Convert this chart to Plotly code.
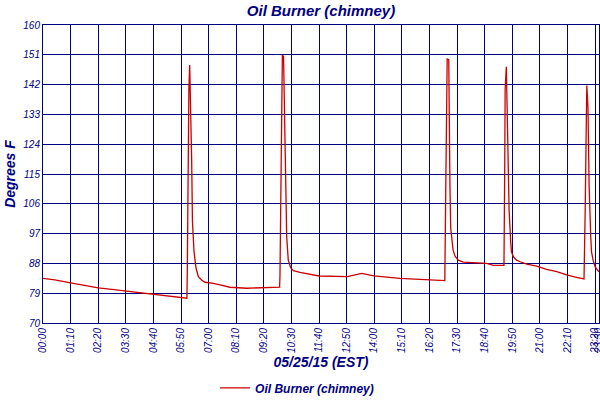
import pandas as pd
import plotly.graph_objects as go

# readings for 05/25/15, time of day (EST) and chimney temperature (deg F)
times = ["00:00", "00:30", "01:10", "01:45", "02:20", "03:00", "03:30", "04:05", "04:40", "05:15",
         "05:50", "06:05", "06:06", "06:08", "06:10", "06:12", "06:14", "06:17", "06:19", "06:21",
         "06:23", "06:25", "06:28", "06:34", "06:42", "06:51", "07:12", "07:29", "07:54", "08:37",
         "09:15", "10:00", "10:01", "10:03", "10:05", "10:07", "10:10", "10:13", "10:16", "10:18",
         "10:22", "10:28", "10:35", "10:52", "11:40", "12:33", "12:52", "13:28", "13:59", "15:05",
         "16:21", "16:59", "17:01", "17:03", "17:05", "17:09", "17:10", "17:12", "17:14", "17:18",
         "17:20", "17:25", "17:33", "17:46", "18:11", "18:45", "19:02", "19:29", "19:31", "19:32",
         "19:35", "19:37", "19:40", "19:42", "19:46", "19:48", "19:53", "20:01", "20:10", "20:27",
         "20:52", "21:17", "21:43", "22:08", "22:33", "22:52", "22:55", "22:57", "22:59", "23:02",
         "23:05", "23:09", "23:11", "23:15", "23:20", "23:26", "23:30"]
temps = [83.5, 83.0, 82.1, 81.3, 80.6, 80.1, 79.7, 79.1, 78.6, 78.2,
         77.8, 77.5, 86.5, 125.8, 140.9, 147.9, 139.4, 119.2, 100.6, 94.6,
         91.5, 89.5, 86.6, 84.0, 83.0, 82.3, 82.0, 81.5, 80.8, 80.5,
         80.6, 80.8, 84.5, 109.7, 148.0, 150.9, 150.5, 128.3, 112.2, 96.1,
         89.0, 86.7, 85.8, 85.3, 84.2, 83.9, 84.0, 85.0, 84.2, 83.5,
         83.0, 82.8, 106.4, 129.5, 149.7, 149.5, 126.3, 111.2, 98.6, 95.0,
         92.0, 90.2, 89.0, 88.4, 88.2, 88.0, 87.4, 87.4, 118.4, 140.6,
         147.4, 134.8, 118.4, 104.1, 94.6, 91.5, 90.0, 89.0, 88.5, 87.8,
         87.2, 86.2, 85.5, 84.5, 83.8, 83.3, 104.1, 137.9, 141.7, 135.3,
         111.2, 96.1, 91.5, 89.0, 87.0, 86.0, 85.5]

x_ticks = ["00:00", "01:10", "02:20", "03:30", "04:40", "05:50", "07:00", "08:10", "09:20", "10:30",
           "11:40", "12:50", "14:00", "15:10", "16:20", "17:30", "18:40", "19:50", "21:00", "22:10",
           "23:20", "23:30"]
y_ticks = [70, 79, 88, 97, 106, 115, 124, 133, 142, 151, 160]

day = "2015-05-25 "
navy = "#000080"
fnt = "Liberation Sans, Arial, sans-serif"

fig = go.Figure()
fig.add_trace(go.Scatter(x=pd.to_datetime([day + t for t in times]), y=temps, mode="lines",
                         name="Oil Burner (chimney)", line=dict(color="#cc0000", width=1.3)))

fig.update_layout(
    width=600, height=400,
    margin=dict(l=43, r=1, t=25, b=77, autoexpand=False),
    paper_bgcolor="white", plot_bgcolor="white",
    font=dict(family=fnt, color=navy, size=10, style="italic"),
    title=dict(text="Oil Burner (chimney)", x=0.535, xanchor="center", y=0.974, yanchor="middle",
               font=dict(size=15, weight="bold", style="italic", color=navy)),
    showlegend=True,
    legend=dict(orientation="h", x=0.457, xanchor="center", y=-0.218, yanchor="middle",
                font=dict(size=12, weight="bold", style="italic", color=navy)),
)
fig.update_xaxes(
    range=[day + "00:00", day + "23:30"], automargin=False, ticklabeloverflow="allow",
    tickvals=[day + t for t in x_ticks], ticktext=x_ticks, tickangle=-90,
    tickfont=dict(size=10, style="italic", color=navy),
    showgrid=True, gridcolor=navy, gridwidth=1,
    showline=True, linecolor=navy, linewidth=1, mirror=True, zeroline=False,
    title=dict(text="05/25/15 (EST)", standoff=4,
               font=dict(size=14, weight="bold", style="italic", color=navy)),
)
fig.update_yaxes(
    range=[70, 160], tickvals=y_ticks, automargin=False,
    tickfont=dict(size=10, style="italic", color=navy),
    showgrid=True, gridcolor=navy, gridwidth=1,
    showline=True, linecolor=navy, linewidth=1, mirror=True, zeroline=False,
    title=dict(text="Degrees F", standoff=4,
               font=dict(size=14, weight="bold", style="italic", color=navy)),
)

# page body has a default margin; drop it so the figure sits at the window corner
fig.write_html("out.html", config={"displayModeBar": False},
               post_script="document.body.style.margin='0';")
